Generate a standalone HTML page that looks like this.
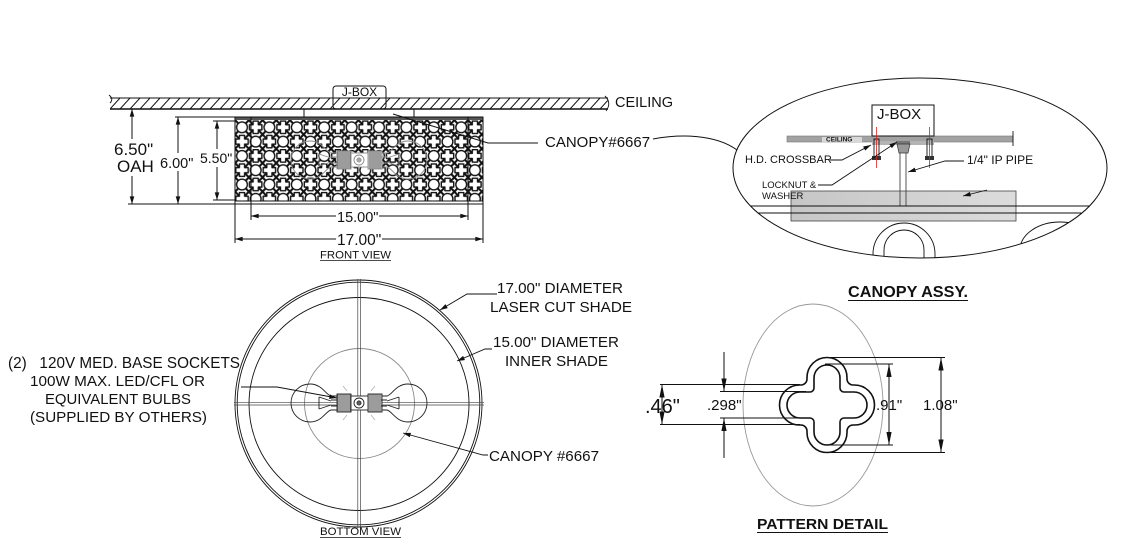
<!DOCTYPE html>
<html><head><meta charset="utf-8">
<style>
html,body{margin:0;padding:0;background:#fff;}
svg{display:block;}
text{font-family:"Liberation Sans",Arial,sans-serif;fill:#111;}
</style></head><body>
<svg width="1126" height="547" viewBox="0 0 1126 547" xmlns="http://www.w3.org/2000/svg">
<defs>
 <marker id="a" viewBox="0 0 10 6" refX="10" refY="3" markerWidth="8" markerHeight="4.6" markerUnits="userSpaceOnUse" orient="auto-start-reverse"><path d="M0,0L10,3L0,6z" fill="#111"/></marker>
 <marker id="b" viewBox="0 0 10 4" refX="10" refY="2" markerWidth="13" markerHeight="5.2" markerUnits="userSpaceOnUse" orient="auto-start-reverse"><path d="M0,0L10,2L0,4z" fill="#111"/></marker>
 <pattern id="hatch" patternUnits="userSpaceOnUse" x="110" y="98" width="10" height="11"><path d="M0,11L10,0" stroke="#111" stroke-width="1"/></pattern>
 <pattern id="sh" patternUnits="userSpaceOnUse" width="2" height="2"><rect width="2" height="2" fill="#ccc"/><line x1="1" y1="0" x2="1" y2="2" stroke="#555" stroke-width="0.8"/></pattern>
 <g id="pl" fill="#fff" stroke="#111" stroke-width="1.4"><path d="M-2.6,-6.2H2.6V-2.6H6.2V2.6H2.6V6.2H-2.6V2.6H-6.2V-2.6H-2.6Z" stroke-linejoin="round"/></g>
 <g id="xx" stroke="#111" stroke-width="2"><path d="M-4,-4.2L4,4.2M-4,4.2L4,-4.2"/></g>
 <pattern id="lat" patternUnits="userSpaceOnUse" x="255.7" y="127.3" width="27.4" height="28.6">
  <rect width="27.4" height="28.6" fill="#fff"/>
  <use href="#xx" x="6.85" y="7.15"/><use href="#xx" x="20.55" y="7.15"/><use href="#xx" x="6.85" y="21.45"/><use href="#xx" x="20.55" y="21.45"/>
  <g fill="#fff" stroke="#111" stroke-width="1.4">
   <circle cx="13.7" cy="0" r="5.4"/><circle cx="13.7" cy="28.6" r="5.4"/><circle cx="0" cy="14.3" r="5.4"/><circle cx="27.4" cy="14.3" r="5.4"/>
  </g>
  <use href="#pl" x="0" y="0"/><use href="#pl" x="27.4" y="0"/><use href="#pl" x="0" y="28.6"/><use href="#pl" x="27.4" y="28.6"/><use href="#pl" x="13.7" y="14.3"/>
 </pattern>
 <g id="bulbs" fill="none" stroke-width="0.9">
  <path d="M-22,-7L-28,-7C-33,-8 -37,-19 -49,-19A19,19 0 0 0 -49,19C-37,19 -33,8 -28,7L-22,7"/>
  <path d="M22,-7L28,-7C33,-8 37,-19 49,-19A19,19 0 0 1 49,19C37,19 33,8 28,7L22,7"/>
  <rect x="-22" y="-9" width="14" height="18" fill="url(#sh)"/>
  <rect x="9" y="-9" width="14" height="18" fill="url(#sh)"/>
  <rect x="-8" y="-7" width="17" height="14" fill="#fff"/>
  <circle r="5" fill="#fff"/><circle r="2"/>
  <path d="M-2.5,0H2.5M0,-2.5V2.5"/>
  <path d="M-40,-6L-40,6M-40,-6L-28,-2M-40,6L-28,2M-28,-3L-22,-3M-28,3L-22,3"/>
  <path d="M40,-6L40,6M40,-6L28,-2M40,6L28,2M28,-3L22,-3M28,3L22,3"/>
 </g>
 <clipPath id="ec"><ellipse cx="920" cy="168" rx="187" ry="90"/></clipPath>
 <linearGradient id="gb" x1="0" x2="1" y1="0" y2="0"><stop offset="0" stop-color="#c6c6c6"/><stop offset="1" stop-color="#dcdcdc"/></linearGradient>
</defs>

<!-- ================= FRONT VIEW ================= -->
<rect x="110" y="98" width="498" height="11" fill="url(#hatch)"/>
<g stroke="#111" fill="none">
 <line x1="110" y1="98" x2="608" y2="98" stroke-width="1"/>
 <line x1="110" y1="109" x2="608" y2="109" stroke-width="1.4"/>
 <path d="M109,95Q114,99 110,103" stroke-width="0.9"/>
 <path d="M605,96Q612,103 606,111" stroke-width="0.9"/>
 <rect x="333" y="86" width="53" height="23" rx="3" stroke-width="1"/>
</g>
<text x="359.5" y="96" font-size="12" text-anchor="middle">J-BOX</text>
<text x="615" y="107" font-size="14.5">CEILING</text>

<!-- shade -->
<rect x="235" y="120" width="248" height="81" fill="url(#lat)"/>
<rect x="235" y="116.5" width="248" height="3.5" fill="#555"/>
<use href="#bulbs" x="359" y="160" stroke="#8a8a8a"/>
<g stroke="#111" fill="none" stroke-width="1">
 <rect x="235" y="117" width="248" height="87"/>
 <line x1="235" y1="201" x2="483" y2="201"/>
 <line x1="251" y1="117" x2="251" y2="220"/>
 <line x1="468" y1="117" x2="468" y2="220"/>
 <line x1="304" y1="109" x2="304" y2="117"/>
 <line x1="414" y1="109" x2="414" y2="117"/>
 <path d="M393,114L488,143L538,143"/>
 <path d="M653,139C680,134 715,134 737,150"/>
 <!-- 6.50 -->
 <line x1="132" y1="109" x2="132" y2="139" marker-start="url(#a)"/>
 <line x1="132" y1="176" x2="132" y2="204" marker-end="url(#a)"/>
 <line x1="128" y1="204" x2="235" y2="204"/>
 <!-- 6.00 -->
 <line x1="178" y1="117" x2="178" y2="153" marker-start="url(#a)"/>
 <line x1="178" y1="171" x2="178" y2="204" marker-end="url(#a)"/>
 <line x1="175" y1="117" x2="235" y2="117"/>
 <!-- 5.50 -->
 <line x1="217" y1="121" x2="217" y2="149" marker-start="url(#a)"/>
 <line x1="217" y1="167" x2="217" y2="200" marker-end="url(#a)"/>
 <line x1="213" y1="121" x2="235" y2="121"/>
 <line x1="213" y1="200" x2="235" y2="200"/>
 <!-- 15.00 -->
 <line x1="251" y1="216" x2="336" y2="216" marker-start="url(#a)"/>
 <line x1="379" y1="216" x2="468" y2="216" marker-end="url(#a)"/>
 <!-- 17.00 -->
 <line x1="235" y1="239" x2="336" y2="239" marker-start="url(#a)"/>
 <line x1="382" y1="239" x2="483" y2="239" marker-end="url(#a)"/>
 <line x1="235" y1="204" x2="235" y2="243"/>
 <line x1="483" y1="204" x2="483" y2="243"/>
 <line x1="320" y1="260.5" x2="391" y2="260.5" stroke-width="0.8"/>
</g>
<text x="114" y="155" font-size="17">6.50"</text>
<text x="117" y="172" font-size="17">OAH</text>
<text x="160" y="168" font-size="14.5">6.00"</text>
<text x="200" y="163" font-size="14">5.50"</text>
<text x="337" y="222" font-size="14.5">15.00"</text>
<text x="337" y="245" font-size="15.5">17.00"</text>
<text x="320" y="258.5" font-size="11" textLength="71" lengthAdjust="spacingAndGlyphs">FRONT VIEW</text>
<text x="545" y="147" font-size="15">CANOPY#6667</text>

<!-- ================= CANOPY ASSY ================= -->
<g clip-path="url(#ec)">
 <rect x="787" y="136" width="226" height="6" fill="#a2a2a2" stroke="#777" stroke-width="0.6"/>
 <rect x="822" y="137" width="40" height="5" fill="#d8d8d8"/>
 <rect x="872" y="105" width="62" height="31" fill="#fff" stroke="#111" stroke-width="1"/>
 <rect x="872" y="141" width="62" height="4" fill="#b4b4b4"/>
 <g stroke="#111" stroke-width="0.9" fill="none">
  <rect x="874" y="139" width="5" height="19"/>
  <rect x="927" y="139" width="5" height="19"/>
 </g>
 <rect x="872" y="156" width="9" height="4" fill="#333"/>
 <rect x="925" y="156" width="9" height="4" fill="#333"/>
 <line x1="876.5" y1="127" x2="876.5" y2="168" stroke="#d22" stroke-width="0.8"/>
 <line x1="929.5" y1="127" x2="929.5" y2="168" stroke="#d22" stroke-width="0.8"/>
 <rect x="791" y="191" width="225" height="30" fill="url(#gb)" stroke="#444" stroke-width="0.8"/>
 <g stroke="#444" stroke-width="0.9">
  <line x1="900" y1="150" x2="900" y2="206"/>
  <line x1="906" y1="150" x2="906" y2="206"/>
 </g>
 <path d="M896,141H910V144H896Z" fill="#777"/>
 <path d="M897,144L910,144L908,153L899,153Z" fill="#999" stroke="#333" stroke-width="0.7"/>
 <g stroke="#111" stroke-width="0.9" fill="none">
  <line x1="720" y1="206" x2="1120" y2="206"/>
  <line x1="720" y1="213" x2="1120" y2="213"/>
  <path d="M873,265L873,254A31,31 0 0 1 935,254L935,265"/>
  <path d="M884,265L884,250A20,20 0 0 1 924,250L924,265"/>
  <ellipse cx="1060" cy="250" rx="40" ry="28"/>
  <ellipse cx="1066" cy="253" rx="30" ry="20"/>
  <line x1="1013" y1="131" x2="1013" y2="146"/>
  <path d="M987,190L963,196" marker-end="url(#a)"/>
 </g>
</g>
<ellipse cx="920" cy="168" rx="187" ry="90" fill="none" stroke="#111" stroke-width="1"/>
<text x="826" y="141.5" font-size="6.5" font-weight="bold">CEILING</text>
<text x="877" y="119" font-size="15">J-BOX</text>
<text x="745" y="163" font-size="11">H.D. CROSSBAR</text>
<text x="967" y="164" font-size="12">1/4" IP PIPE</text>
<text x="762" y="188" font-size="9.5">LOCKNUT &amp;</text>
<text x="762" y="199" font-size="9.5">WASHER</text>
<g stroke="#111" stroke-width="0.9" fill="none">
 <path d="M830,160L842,160L871,145" marker-end="url(#a)"/>
 <path d="M818,185L832,185L897,142" marker-end="url(#a)"/>
 <path d="M964,161L945,161L908,172" marker-end="url(#a)"/>
</g>
<text x="848" y="297" font-size="15.5" font-weight="bold" textLength="120" lengthAdjust="spacingAndGlyphs">CANOPY ASSY.</text>
<line x1="848" y1="300.5" x2="968" y2="300.5" stroke="#111" stroke-width="1"/>

<!-- ================= BOTTOM VIEW ================= -->
<g fill="none" stroke="#111" stroke-width="0.9">
 <circle cx="358.5" cy="403.5" r="123.5"/>
 <circle cx="358.5" cy="403.5" r="121.3"/>
 <ellipse cx="359" cy="404" rx="110" ry="106.5"/>
</g>
<circle cx="359.5" cy="403.5" r="55" fill="none" stroke="#888" stroke-width="0.9"/>
<g stroke="#444" stroke-width="0.7">
 <line x1="357.8" y1="279" x2="357.8" y2="528"/>
 <line x1="360.4" y1="279" x2="360.4" y2="528"/>
 <line x1="234" y1="402.3" x2="484" y2="402.3"/>
 <line x1="234" y1="405" x2="484" y2="405"/>
</g>
<use href="#bulbs" x="359" y="403" stroke="#222"/>
<g stroke="#aaa" stroke-width="0.7">
 <line x1="347" y1="391" x2="343" y2="386"/><line x1="371" y1="391" x2="375" y2="386"/>
 <line x1="347" y1="415" x2="343" y2="420"/><line x1="371" y1="415" x2="375" y2="420"/>
</g>
<g stroke="#111" stroke-width="0.9" fill="none">
 <path d="M241,387L277,387L337,398" marker-end="url(#a)"/>
 <path d="M497,294L467,294L440,310" marker-end="url(#a)"/>
 <path d="M492,349L485,349L457,361" marker-end="url(#a)"/>
 <path d="M488,455L483,455L403,433" marker-end="url(#a)"/>
 <line x1="320" y1="537.5" x2="401" y2="537.5" stroke-width="0.8"/>
</g>
<text x="320" y="535" font-size="11" textLength="81" lengthAdjust="spacingAndGlyphs">BOTTOM VIEW</text>
<text x="497" y="293" font-size="15" textLength="126" lengthAdjust="spacingAndGlyphs">17.00" DIAMETER</text>
<text x="490" y="312" font-size="15" textLength="142" lengthAdjust="spacingAndGlyphs">LASER CUT SHADE</text>
<text x="493" y="347" font-size="15" textLength="126" lengthAdjust="spacingAndGlyphs">15.00" DIAMETER</text>
<text x="505" y="366" font-size="15" textLength="103" lengthAdjust="spacingAndGlyphs">INNER SHADE</text>
<text x="489" y="461" font-size="15" textLength="110" lengthAdjust="spacingAndGlyphs">CANOPY #6667</text>
<text x="8" y="368" font-size="15.3" xml:space="preserve" textLength="232" lengthAdjust="spacingAndGlyphs">(2)   120V MED. BASE SOCKETS</text>
<text x="30" y="386" font-size="15.2" textLength="175" lengthAdjust="spacingAndGlyphs">100W MAX. LED/CFL OR</text>
<text x="45" y="404" font-size="15.2" textLength="146" lengthAdjust="spacingAndGlyphs">EQUIVALENT BULBS</text>
<text x="30" y="422" font-size="15.2" textLength="177" lengthAdjust="spacingAndGlyphs">(SUPPLIED BY OTHERS)</text>

<!-- ================= PATTERN DETAIL ================= -->
<ellipse cx="813" cy="405" rx="70" ry="101" fill="none" stroke="#999" stroke-width="0.9"/>
<g transform="translate(827,405)" fill="none" stroke="#111" stroke-width="1.6">
 <path d="M-20,-27.5A20,20 0 0 1 20,-27.5L20,-26A6,6 0 0 0 26,-20L27.5,-20A20,20 0 0 1 27.5,20L26,20A6,6 0 0 0 20,26L20,27.5A20,20 0 0 1 -20,27.5L-20,26A6,6 0 0 0 -26,20L-27.5,20A20,20 0 0 1 -27.5,-20L-26,-20A6,6 0 0 0 -20,-26Z"/>
 <path d="M-13,-27A13,13 0 0 1 13,-27L13,-17A4,4 0 0 0 17,-13L27,-13A13,13 0 0 1 27,13L17,13A4,4 0 0 0 13,17L13,27A13,13 0 0 1 -13,27L-13,17A4,4 0 0 0 -17,13L-27,13A13,13 0 0 1 -27,-13L-17,-13A4,4 0 0 0 -13,-17Z"/>
</g>
<g stroke="#111" stroke-width="1" fill="none">
 <line x1="660" y1="384.5" x2="800" y2="384.5"/>
 <line x1="660" y1="424.5" x2="800" y2="424.5"/>
 <line x1="720" y1="391.5" x2="806" y2="391.5"/>
 <line x1="720" y1="418" x2="806" y2="418"/>
 <line x1="662" y1="384.5" x2="662" y2="424.5" marker-start="url(#b)" marker-end="url(#b)"/>
 <line x1="724" y1="352" x2="724" y2="391.5" marker-end="url(#b)"/>
 <line x1="724" y1="458" x2="724" y2="418" marker-end="url(#b)"/>
 <line x1="825" y1="364" x2="893" y2="364"/>
 <line x1="825" y1="445" x2="893" y2="445"/>
 <line x1="889" y1="364" x2="889" y2="445" marker-start="url(#b)" marker-end="url(#b)"/>
 <line x1="830" y1="357.5" x2="945" y2="357.5"/>
 <line x1="827" y1="452.5" x2="945" y2="452.5"/>
 <line x1="941" y1="357.5" x2="941" y2="452.5" marker-start="url(#b)" marker-end="url(#b)"/>
</g>
<text x="645" y="413" font-size="20">.46"</text>
<text x="707" y="410" font-size="15">.298"</text>
<text x="876" y="410" font-size="15">.91"</text>
<text x="923" y="410" font-size="15">1.08"</text>
<text x="757" y="529" font-size="15" font-weight="bold" textLength="131" lengthAdjust="spacingAndGlyphs">PATTERN DETAIL</text>
<line x1="757" y1="532.5" x2="888" y2="532.5" stroke="#111" stroke-width="1"/>
</svg>
</body></html>
